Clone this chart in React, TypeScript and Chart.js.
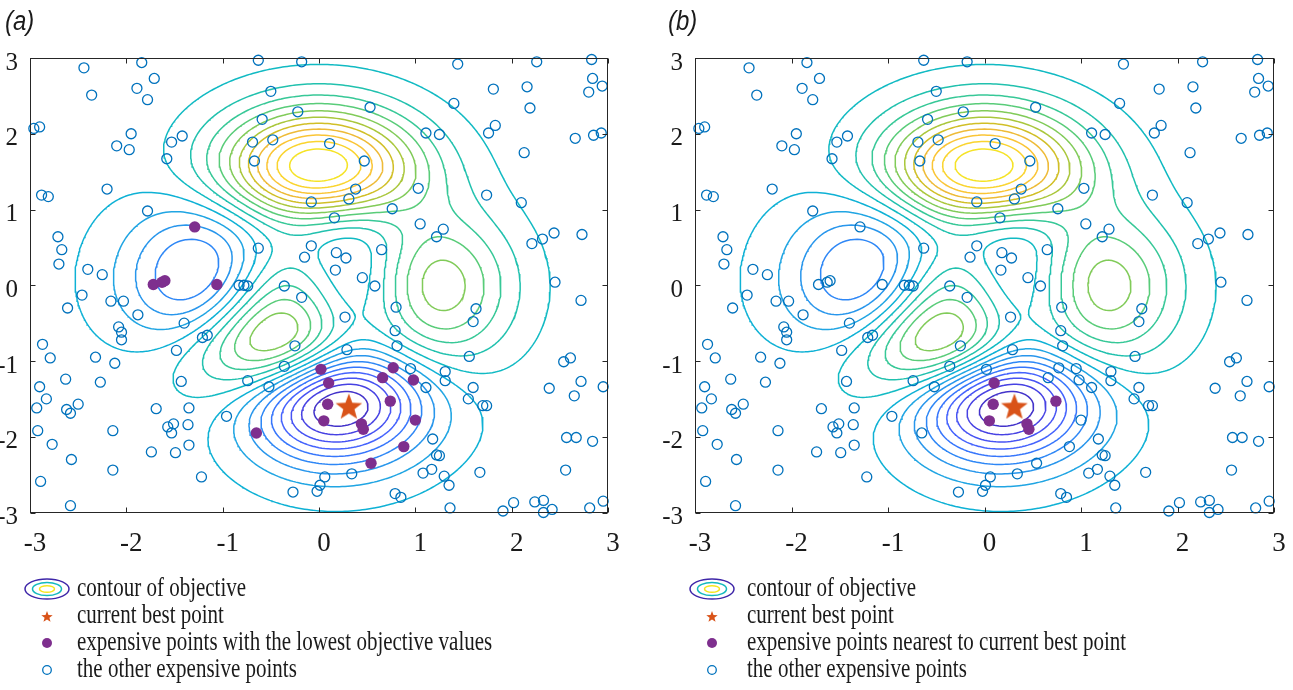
import React, { useEffect, useRef } from 'react';
import { Chart, registerables } from 'chart.js';

Chart.register(...registerables);

// ---------------- data ----------------
const axisTicks = [-3, -2, -1, 0, 1, 2, 3];
const contourLevelCount = 20;

const bestPoint: number[][] = [[0.31, -1.6]];

// expensive points that are both among the lowest and the nearest to the best point
const nearestLowPoints: number[][] = [
  [0.10, -1.29], [0.09, -1.57], [0.05, -1.79], [0.44, -1.83], [0.46, -1.90], [0.74, -1.53],
];

// expensive points among the lowest objective values but not nearest to the best point
const lowestOnlyPoints: number[][] = [
  [-1.29, 0.77], [-1.72, 0.01], [-1.63, 0.04], [-1.60, 0.06], [-1.06, 0.01],
  [0.02, -1.11], [0.77, -1.09], [0.66, -1.22], [0.98, -1.25], [1.00, -1.78],
  [0.88, -2.13], [0.54, -2.35], [-0.65, -1.95],
];

// the remaining expensive points
const otherPoints: number[][] = [
  [-2.44, 2.87], [-1.84, 2.94], [-1.71, 2.73], [-1.89, 2.60], [-1.78, 2.45], [-2.36, 2.51],
  [-2.96, 2.07], [-2.90, 2.09], [-1.95, 2.00], [-2.10, 1.84], [-1.97, 1.79], [-1.42, 1.97],
  [-1.53, 1.89], [-1.58, 1.67], [-2.20, 1.27], [-2.88, 1.19], [-2.81, 1.17], [-1.78, 0.98],
  [-2.71, 0.64], [-2.67, 0.47], [-2.70, 0.28], [-2.40, 0.21], [-2.25, 0.14],
  [-0.63, 2.97], [-0.18, 2.95], [-0.50, 2.56], [-0.22, 2.29], [-0.59, 2.19], [0.53, 2.35],
  [-0.69, 1.89], [-0.48, 1.92], [0.11, 1.87], [-0.67, 1.64], [0.47, 1.64], [1.11, 2.01],
  [0.38, 1.27], [0.31, 1.14], [-0.08, 1.10], [1.03, 1.28], [0.76, 1.01], [0.16, 0.89],
  [1.05, 0.81], [-0.08, 0.52], [-0.15, 0.37], [-0.63, 0.49], [0.18, 0.43], [0.28, 0.36],
  [0.65, 0.47], [0.17, 0.20], [0.45, 0.10], [0.58, -0.01], [-0.83, 0.00], [-0.78, 0.00],
  [-0.74, -0.01], [-0.36, -0.01],
  [1.44, 2.92], [2.26, 2.95], [2.83, 2.98], [1.81, 2.59], [2.16, 2.62], [2.84, 2.73],
  [2.80, 2.55], [2.94, 2.63], [2.19, 2.34], [1.40, 2.40], [1.25, 1.99], [1.76, 2.01],
  [1.83, 2.11], [2.66, 1.94], [2.85, 1.98], [2.93, 2.01], [2.13, 1.75], [1.74, 1.19],
  [2.10, 1.09], [1.29, 0.74], [1.22, 0.64], [2.21, 0.55], [2.32, 0.61], [2.44, 0.69],
  [2.73, 0.67], [2.45, 0.04],
  [-2.46, -0.13], [-2.61, -0.30], [-2.16, -0.21], [-2.03, -0.21], [-1.88, -0.39], [-2.08, -0.55],
  [-2.05, -0.62], [-2.05, -0.72], [-1.40, -0.50], [-1.21, -0.69], [-1.16, -0.66], [-1.48, -0.86],
  [-2.87, -0.78], [-2.79, -0.96], [-2.32, -0.95], [-2.12, -1.03], [-2.63, -1.24], [-2.27, -1.28],
  [-1.43, -1.27], [-2.90, -1.34], [-2.83, -1.50], [-2.93, -1.62], [-2.62, -1.64], [-2.58, -1.69],
  [-2.50, -1.57], [-1.69, -1.63], [-1.35, -1.62], [-1.57, -1.87], [-1.51, -1.83], [-1.53, -1.95],
  [-1.36, -1.84], [-2.92, -1.92], [-2.14, -1.92], [-2.77, -2.10], [-1.74, -2.20], [-1.49, -2.21],
  [-1.35, -2.11], [-2.57, -2.30], [-2.14, -2.44], [-1.22, -2.53], [-2.89, -2.59], [-2.58, -2.91],
  [-0.96, -1.73],
  [-0.18, -0.16], [0.80, -0.29], [0.27, -0.42], [-0.25, -0.80], [0.79, -0.60], [0.81, -0.80],
  [0.29, -0.85], [-0.36, -1.07], [-0.74, -1.26], [-0.52, -1.34], [0.95, -1.10], [1.11, -1.35],
  [0.06, -2.53], [0.34, -2.49], [0.01, -2.64], [-0.02, -2.72], [-0.27, -2.73], [0.79, -2.75],
  [0.85, -2.80], [1.08, -2.48], [1.17, -2.43],
  [2.72, -0.20], [1.63, -0.31], [1.60, -0.48], [1.56, -0.94], [2.54, -1.01], [2.61, -0.96],
  [1.31, -1.14], [1.31, -1.26], [1.60, -1.35], [1.55, -1.50], [1.70, -1.59], [1.74, -1.59],
  [2.39, -1.36], [2.72, -1.27], [2.65, -1.46], [2.95, -1.34], [1.18, -2.03], [1.22, -2.24],
  [1.25, -2.25], [1.30, -2.52], [1.35, -2.64], [1.67, -2.47], [2.57, -2.01], [2.67, -2.01],
  [2.84, -2.06], [2.56, -2.44], [1.36, -2.94], [1.91, -2.98], [2.02, -2.87], [2.24, -2.86],
  [2.33, -2.84], [2.33, -3.00], [2.42, -2.96], [2.81, -2.94], [2.95, -2.85],
];

const legendLabelsA = [
  'contour of objective',
  'current best point',
  'expensive points with the lowest objective values',
  'the other expensive points',
];
const legendLabelsB = [
  'contour of objective',
  'current best point',
  'expensive points nearest to current best point',
  'the other expensive points',
];

// ---------------- styling ----------------
const BLUE = '#0072BD';
const PURPLE = '#7E2F8E';
const ORANGE = '#D95319';
const AXIS_COLOR = '#262626';
const TEXT_COLOR = '#1a1a1a';
const SERIF = '"Liberation Serif", "Times New Roman", serif';
const SANS = '"Liberation Sans", Arial, sans-serif';

const CANVAS_H = 690;
const AREA_TOP = 58;
const AREA_BOTTOM = 512.5;

const parulaStops: [number, number[]][] = [
  [0, [62, 38, 168]], [4 / 63, [69, 55, 213]], [8 / 63, [72, 77, 240]], [12 / 63, [69, 99, 253]],
  [16 / 63, [50, 124, 252]], [20 / 63, [43, 145, 239]], [24 / 63, [32, 165, 227]],
  [28 / 63, [8, 181, 208]], [32 / 63, [25, 191, 182]], [36 / 63, [55, 200, 151]],
  [40 / 63, [100, 205, 111]], [44 / 63, [157, 201, 67]], [48 / 63, [209, 191, 39]],
  [52 / 63, [248, 186, 61]], [56 / 63, [252, 207, 48]], [60 / 63, [245, 227, 39]], [1, [249, 251, 21]],
];

function parula(t: number): string {
  t = Math.max(0, Math.min(1, t));
  for (let k = 1; k < parulaStops.length; k++) {
    const [t1, c1] = parulaStops[k];
    const [t0, c0] = parulaStops[k - 1];
    if (t <= t1) {
      const f = (t - t0) / (t1 - t0);
      const c = c0.map((v, i) => Math.round(v + f * (c1[i] - v)));
      return `rgb(${c[0]},${c[1]},${c[2]})`;
    }
  }
  return 'rgb(249,251,21)';
}

// objective (MATLAB "peaks" test function)
function objective(x: number, y: number): number {
  return (
    3 * (1 - x) ** 2 * Math.exp(-x * x - (y + 1) ** 2) -
    10 * (x / 5 - x ** 3 - y ** 5) * Math.exp(-x * x - y * y) -
    (1 / 3) * Math.exp(-((x + 1) ** 2) - y * y)
  );
}

const GRID_N = 201;

function traceLevel(z: Float64Array, xs: Float64Array, n: number, L: number) {
  const vBase = n * n;
  const pts = new Map<number, [number, number]>();
  const segA: number[] = [];
  const segB: number[] = [];
  const adj = new Map<number, number[]>();
  const edgePoint = (id: number) => {
    if (pts.has(id)) return;
    let x: number, y: number;
    if (id < vBase) {
      const j = Math.floor(id / n), i = id % n;
      const z1 = z[j * n + i], z2 = z[j * n + i + 1];
      const t = (L - z1) / (z2 - z1);
      x = xs[i] + t * (xs[i + 1] - xs[i]);
      y = xs[j];
    } else {
      const k = id - vBase;
      const j = Math.floor(k / n), i = k % n;
      const z1 = z[j * n + i], z2 = z[(j + 1) * n + i];
      const t = (L - z1) / (z2 - z1);
      x = xs[i];
      y = xs[j] + t * (xs[j + 1] - xs[j]);
    }
    pts.set(id, [x, y]);
  };
  const addSeg = (e1: number, e2: number) => {
    edgePoint(e1);
    edgePoint(e2);
    const s = segA.length;
    segA.push(e1);
    segB.push(e2);
    if (!adj.has(e1)) adj.set(e1, []);
    if (!adj.has(e2)) adj.set(e2, []);
    adj.get(e1)!.push(s);
    adj.get(e2)!.push(s);
  };
  for (let j = 0; j < n - 1; j++) {
    for (let i = 0; i < n - 1; i++) {
      const a = z[j * n + i], b = z[j * n + i + 1], c = z[(j + 1) * n + i + 1], d = z[(j + 1) * n + i];
      const A = a > L, B = b > L, C = c > L, D = d > L;
      const eB = j * n + i, eR = vBase + j * n + i + 1, eT = (j + 1) * n + i, eL = vBase + j * n + i;
      const crossed: number[] = [];
      if (A !== B) crossed.push(eB);
      if (B !== C) crossed.push(eR);
      if (C !== D) crossed.push(eT);
      if (D !== A) crossed.push(eL);
      if (crossed.length === 2) addSeg(crossed[0], crossed[1]);
      else if (crossed.length === 4) {
        const center = (a + b + c + d) / 4 > L;
        if (A) {
          if (center) { addSeg(eB, eR); addSeg(eT, eL); } else { addSeg(eL, eB); addSeg(eR, eT); }
        } else {
          if (center) { addSeg(eL, eB); addSeg(eR, eT); } else { addSeg(eB, eR); addSeg(eT, eL); }
        }
      }
    }
  }
  const used = new Uint8Array(segA.length);
  const out: { x: number; y: number | null }[] = [];
  const walk = (start: number): number[] => {
    const res: number[] = [];
    let cur = start;
    for (;;) {
      const list = adj.get(cur) || [];
      let next = -1;
      for (const t of list) if (!used[t]) { next = t; break; }
      if (next < 0) break;
      used[next] = 1;
      const other = segA[next] === cur ? segB[next] : segA[next];
      res.push(other);
      cur = other;
    }
    return res;
  };
  for (let s = 0; s < segA.length; s++) {
    if (used[s]) continue;
    used[s] = 1;
    const fwd = walk(segB[s]);
    const back = walk(segA[s]);
    const ids = back.reverse().concat([segA[s], segB[s]], fwd);
    let lastX = 0;
    for (const id of ids) {
      const p = pts.get(id)!;
      out.push({ x: p[0], y: p[1] });
      lastX = p[0];
    }
    out.push({ x: lastX, y: null });
  }
  return out;
}

let contourCache: { color: string; data: { x: number; y: number | null }[] }[] | null = null;
function getContours() {
  if (contourCache) return contourCache;
  const n = GRID_N;
  const xs = new Float64Array(n);
  for (let i = 0; i < n; i++) xs[i] = -3 + (6 * i) / (n - 1);
  const z = new Float64Array(n * n);
  let zmin = Infinity, zmax = -Infinity;
  for (let j = 0; j < n; j++) {
    for (let i = 0; i < n; i++) {
      const v = objective(xs[i], xs[j]);
      z[j * n + i] = v;
      if (v < zmin) zmin = v;
      if (v > zmax) zmax = v;
    }
  }
  const res = [];
  for (let k = 1; k <= contourLevelCount; k++) {
    const L = zmin + ((zmax - zmin) * k) / (contourLevelCount + 1);
    res.push({ color: parula((L - zmin) / (zmax - zmin)), data: traceLevel(z, xs, n, L) });
  }
  contourCache = res;
  return res;
}

function starPath(ctx: CanvasRenderingContext2D, cx: number, cy: number, r: number) {
  const inner = r * 0.42;
  ctx.beginPath();
  for (let k = 0; k < 10; k++) {
    const ang = -Math.PI / 2 + (k * Math.PI) / 5;
    const rr = k % 2 === 0 ? r : inner;
    const x = cx + rr * Math.cos(ang), y = cy + rr * Math.sin(ang);
    if (k === 0) ctx.moveTo(x, y); else ctx.lineTo(x, y);
  }
  ctx.closePath();
}

function makeStarCanvas(r: number, color: string) {
  const c = document.createElement('canvas');
  const size = Math.ceil(r * 2 + 2);
  c.width = size;
  c.height = size;
  const ctx = c.getContext('2d')!;
  ctx.fillStyle = color;
  starPath(ctx, size / 2, size / 2 + 1, r);
  ctx.fill();
  return c;
}

const toXY = (arr: number[][]) => arr.map(([x, y]) => ({ x, y }));

type PanelSpec = {
  left: number;
  width: number;
  areaLeft: number;
  areaRight: number;
  title: string;
  titleX: number;
  iconX: number;
  textX: number;
  labels: string[];
  filled: number[][];
  open: number[][];
};

function stretchedText(ctx: CanvasRenderingContext2D, text: string, x: number, y: number, font: string, sy: number) {
  ctx.save();
  ctx.translate(x, y);
  ctx.scale(1, sy);
  ctx.font = font;
  ctx.fillStyle = TEXT_COLOR;
  ctx.textAlign = 'left';
  ctx.textBaseline = 'alphabetic';
  ctx.fillText(text, 0, 0);
  ctx.restore();
}

function makePlugin(spec: PanelSpec) {
  return {
    id: 'frameLegend',
    afterDatasetsDraw(chart: any) {
      const ctx: CanvasRenderingContext2D = chart.ctx;
      const { left, right, top, bottom } = chart.chartArea;
      const xs = chart.scales.x, ys = chart.scales.y;
      const l = Math.round(left) + 0.5, r = Math.round(right) - 0.5;
      const t = Math.round(top) + 0.5, b = Math.round(bottom) - 0.5;
      ctx.save();
      ctx.strokeStyle = AXIS_COLOR;
      ctx.lineWidth = 1;
      ctx.strokeRect(l, t, r - l, b - t);
      const tl = 5;
      ctx.beginPath();
      for (const v of axisTicks) {
        const px = Math.round(xs.getPixelForValue(v)) + 0.5;
        ctx.moveTo(px, b); ctx.lineTo(px, b - tl);
        ctx.moveTo(px, t); ctx.lineTo(px, t + tl);
        const py = Math.round(ys.getPixelForValue(v)) + 0.5;
        ctx.moveTo(l, py); ctx.lineTo(l + tl, py);
        ctx.moveTo(r, py); ctx.lineTo(r - tl, py);
      }
      ctx.stroke();
      ctx.restore();
    },
    afterDraw(chart: any) {
      const ctx: CanvasRenderingContext2D = chart.ctx;
      ctx.save();
      stretchedText(ctx, spec.title, spec.titleX, 30, `italic 24px ${SANS}`, 1.15);
      const baselines = [596, 623, 650, 677];
      spec.labels.forEach((lab, i) => stretchedText(ctx, lab, spec.textX, baselines[i], `21px ${SERIF}`, 1.25));
      const ix = spec.iconX;
      // contour icon
      const ellipses: [number, number, string][] = [[22, 10, 'rgb(62,38,168)'], [14.5, 6.5, 'rgb(20,185,190)'], [7.5, 3.3, 'rgb(245,230,30)']];
      ctx.lineWidth = 1.5;
      for (const [rx, ry, col] of ellipses) {
        ctx.beginPath();
        ctx.ellipse(ix, 589, rx, ry, 0, 0, Math.PI * 2);
        ctx.strokeStyle = col;
        ctx.stroke();
      }
      // star
      ctx.fillStyle = ORANGE;
      starPath(ctx, ix, 617, 6);
      ctx.fill();
      // filled circle
      ctx.beginPath();
      ctx.arc(ix, 643, 5, 0, Math.PI * 2);
      ctx.fillStyle = PURPLE;
      ctx.fill();
      // open circle
      ctx.beginPath();
      ctx.arc(ix, 670, 4.3, 0, Math.PI * 2);
      ctx.strokeStyle = BLUE;
      ctx.lineWidth = 1.3;
      ctx.stroke();
      ctx.restore();
    },
  };
}

function Panel({ spec }: { spec: PanelSpec }) {
  const ref = useRef<HTMLCanvasElement>(null);
  useEffect(() => {
    const canvas = ref.current!;
    const contours = getContours();
    const starImg = makeStarCanvas(14, ORANGE);
    const datasets: any[] = [
      {
        label: 'current best point', data: toXY(bestPoint), pointStyle: starImg, pointRadius: 14,
        showLine: false, order: 0, clip: false,
      },
      {
        label: 'filled', data: toXY(spec.filled), pointRadius: 5.7, pointBackgroundColor: PURPLE,
        pointBorderColor: PURPLE, pointBorderWidth: 0, showLine: false, order: 1, clip: false,
      },
      {
        label: 'other', data: toXY(spec.open), pointRadius: 5, pointBackgroundColor: 'rgba(0,0,0,0)',
        pointBorderColor: BLUE, pointBorderWidth: 1.3, showLine: false, order: 2, clip: false,
      },
    ];
    contours.forEach((c, k) =>
      datasets.push({
        label: 'contour' + k, data: c.data, showLine: true, borderColor: c.color, borderWidth: 1.5,
        pointRadius: 0, pointHitRadius: 0, tension: 0, spanGaps: false, fill: false, order: 3 + k,
      })
    );
    const tickFontX = { family: SERIF, size: 27 };
    const tickFontY = { family: SERIF, size: 25 };
    const chart = new Chart(canvas, {
      type: 'scatter',
      data: { datasets },
      options: {
        responsive: false,
        animation: false,
        events: [],
        layout: { padding: { top: AREA_TOP, left: 0, right: spec.width - spec.areaRight, bottom: 0 } },
        plugins: { legend: { display: false }, tooltip: { enabled: false }, title: { display: false } },
        scales: {
          x: {
            type: 'linear', position: 'bottom', min: -3, max: 3,
            grid: { display: false }, border: { display: false },
            afterBuildTicks: (s: any) => { s.ticks = axisTicks.map((v) => ({ value: v })); },
            ticks: {
              padding: 7, labelOffset: 5, autoSkip: false, maxRotation: 0, minRotation: 0,
              color: TEXT_COLOR, font: tickFontX, callback: (v: any) => String(v),
            },
            afterFit: (s: any) => { s.height = CANVAS_H - AREA_BOTTOM; },
          },
          y: {
            type: 'linear', position: 'left', min: -3, max: 3,
            grid: { display: false }, border: { display: false },
            afterBuildTicks: (s: any) => { s.ticks = axisTicks.map((v) => ({ value: v })); },
            ticks: {
              padding: 4, labelOffset: 5, autoSkip: false,
              color: TEXT_COLOR, font: tickFontY, callback: (v: any) => String(v),
            },
            afterFit: (s: any) => { s.width = spec.areaLeft; },
          },
        },
      } as any,
      plugins: [makePlugin(spec) as any],
    });
    return () => chart.destroy();
  }, [spec]);
  return (
    <canvas
      ref={ref}
      width={spec.width}
      height={CANVAS_H}
      style={{ position: 'absolute', left: spec.left, top: 0, width: spec.width, height: CANVAS_H }}
    />
  );
}

const panelA: PanelSpec = {
  left: 0, width: 648, areaLeft: 30, areaRight: 608, title: '(a)', titleX: 5, iconX: 47, textX: 77,
  labels: legendLabelsA,
  filled: [...lowestOnlyPoints, ...nearestLowPoints],
  open: otherPoints,
};
const panelB: PanelSpec = {
  left: 648, width: 645, areaLeft: 47, areaRight: 626, title: '(b)', titleX: 20, iconX: 64, textX: 99,
  labels: legendLabelsB,
  filled: nearestLowPoints,
  open: [...otherPoints, ...lowestOnlyPoints],
};

export default function App() {
  return (
    <div style={{ position: 'fixed', left: 0, top: 0, width: 1293, height: 690, background: '#fff' }}>
      <Panel spec={panelA} />
      <Panel spec={panelB} />
    </div>
  );
}
